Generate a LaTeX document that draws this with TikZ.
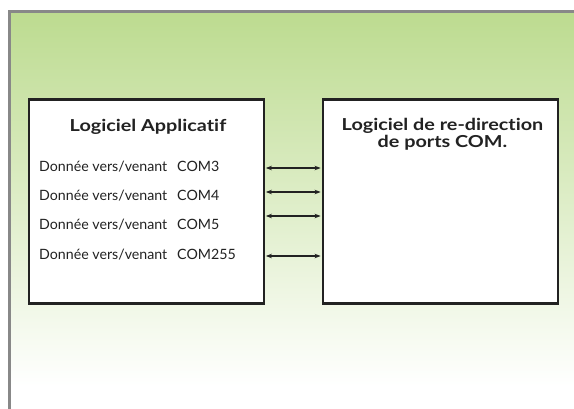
\documentclass[tikz,border=0pt]{standalone}
\usepackage{fontspec}
\setmainfont{Lato}[Ligatures=NoCommon]
\newfontfamily\headfont[FakeStretch=1.2, Ligatures=NoCommon]{Lato Bold}
\usetikzlibrary{arrows.meta}
\definecolor{leaf}{RGB}{188,219,143}
\definecolor{framegray}{RGB}{136,136,136}
\definecolor{ink}{RGB}{34,34,34}
\tikzset{
  box/.style={draw=ink, line width=2.4pt, fill=white, inner sep=0pt},
  title/.style={font=\headfont\fontsize{16.5}{17}\selectfont, text=ink, align=center, inner sep=0pt},
  rowlabel/.style={font=\fontsize{14.2}{15}\selectfont, text=ink, anchor=base west, inner sep=0pt},
  biarrow/.style={draw=ink, line width=1.2pt, {Stealth[length=6pt,width=4.5pt]}-{Stealth[length=6pt,width=4.5pt]}, shorten <=1pt, shorten >=1pt}
}
\newcommand{\portrow}[1]{\makebox[138pt][l]{Donnée vers/venant}#1}
\begin{document}
\begin{tikzpicture}[x=1pt, y=-1pt]
  \useasboundingbox (0,0) rectangle (574,409);
  % panel: green fading to white
  \shade[top color=leaf, bottom color=white] (9,11) rectangle (574,386);
  \fill[white] (9,385.5) rectangle (574,409);
  \draw[framegray, line width=2.6pt] (9.3,409) -- (9.3,11.5) -- (574,11.5);

  % the two software blocks
  \node[box, minimum width=235pt, minimum height=204pt] (app) at (146.2,201.5) {};
  \node[box, minimum width=235pt, minimum height=204pt] (redir) at (440.3,201.5) {};

  \node[title, anchor=base] (apptitle) at (148,132) {Logiciel Applicatif};
  \node[title, anchor=base] (redirtitle1) at (442.5,131) {Logiciel de re-direction};
  \node[title, anchor=base] (redirtitle2) at (442.5,148) {de ports COM.};

  % data lines
  \node[rowlabel] (row3) at (39,172) {\portrow{COM3}};
  \node[rowlabel] (row4) at (39,201) {\portrow{COM4}};
  \node[rowlabel] (row5) at (39,230) {\portrow{COM5}};
  \node[rowlabel] (row255) at (39,260) {\portrow{COM255}};

  % exchange arrows between the blocks
  \coordinate (y3) at (290,168);
  \coordinate (y4) at (290,192);
  \coordinate (y5) at (290,216);
  \coordinate (y255) at (290,256);
  \foreach \p in {y3,y4,y5,y255}
    \draw[biarrow] (app.east |- \p) -- (redir.west |- \p);
\end{tikzpicture}
\end{document}
